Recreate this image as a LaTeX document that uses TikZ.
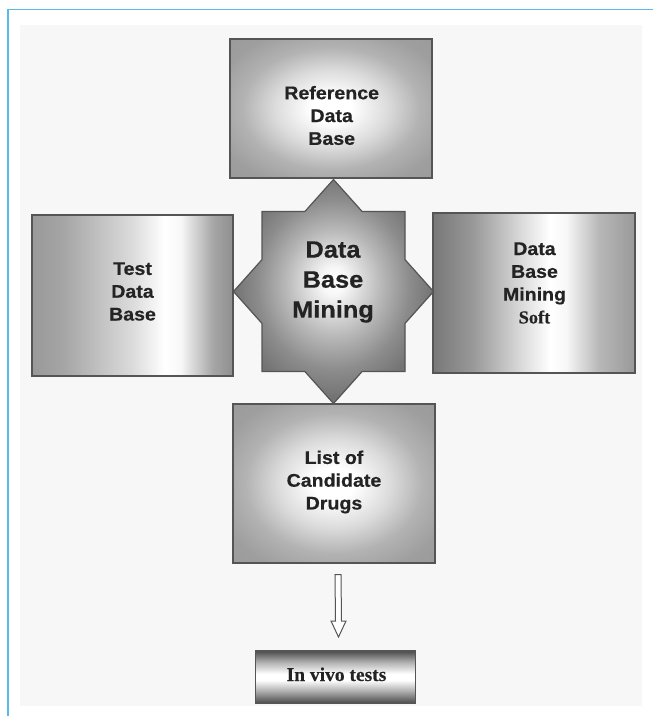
\documentclass[tikz,border=0pt]{standalone}
\usepackage{fontspec}
\setmainfont{Liberation Serif}[FakeBold=0.4]
\newfontfamily\boxfont{Liberation Sans}[FakeStretch=1.07, FakeBold=0.5]
\usetikzlibrary{calc}
\definecolor{framecol}{RGB}{90,185,230}
\definecolor{txtcol}{RGB}{35,35,35}
\definecolor{edgecol}{RGB}{85,85,85}
\pgfdeclareradialshading{boxrad}{\pgfpoint{0bp}{0bp}}{rgb(0bp)=(1,1,1); rgb(5bp)=(1,1,1); rgb(14bp)=(0.86,0.86,0.86); rgb(22bp)=(0.7,0.7,0.7); rgb(30bp)=(0.62,0.62,0.62); rgb(50bp)=(0.58,0.58,0.58)}
\pgfdeclareradialshading{starrad}{\pgfpoint{0bp}{2.5bp}}{rgb(0bp)=(1,1,1); rgb(3bp)=(0.97,0.97,0.97); rgb(12bp)=(0.72,0.72,0.72); rgb(19bp)=(0.55,0.55,0.55); rgb(25bp)=(0.45,0.45,0.45); rgb(50bp)=(0.45,0.45,0.45)}
\pgfdeclarehorizontalshading{testsh}{100bp}{rgb(0bp)=(0.6,0.6,0.6); rgb(25bp)=(0.6,0.6,0.6); rgb(33bp)=(0.65,0.65,0.65); rgb(50bp)=(0.86,0.86,0.86); rgb(58bp)=(1,1,1); rgb(62bp)=(0.97,0.97,0.97); rgb(70bp)=(0.65,0.65,0.65); rgb(75bp)=(0.56,0.56,0.56); rgb(100bp)=(0.56,0.56,0.56)}
\pgfdeclarehorizontalshading{softsh}{100bp}{rgb(0bp)=(0.47,0.47,0.47); rgb(25bp)=(0.47,0.47,0.47); rgb(35bp)=(0.6,0.6,0.6); rgb(48bp)=(0.88,0.88,0.88); rgb(54bp)=(1,1,1); rgb(58bp)=(0.97,0.97,0.97); rgb(66bp)=(0.72,0.72,0.72); rgb(75bp)=(0.6,0.6,0.6); rgb(100bp)=(0.6,0.6,0.6)}
\pgfdeclareverticalshading{vivosh}{100bp}{rgb(0bp)=(0.3,0.3,0.3); rgb(25bp)=(0.3,0.3,0.3); rgb(37bp)=(0.7,0.7,0.7); rgb(47bp)=(1,1,1); rgb(53bp)=(1,1,1); rgb(64bp)=(0.7,0.7,0.7); rgb(75bp)=(0.3,0.3,0.3); rgb(100bp)=(0.3,0.3,0.3)}
\tikzset{
  box/.style={draw=edgecol, line width=1.2pt, inner sep=0pt, outer sep=0pt},
  boxtext/.style={text=txtcol, align=center, inner sep=0pt,
    font={\boxfont\bfseries\fontsize{18.3}{22.8}\selectfont}},
  startext/.style={text=txtcol, align=center, inner sep=0pt,
    font={\boxfont\bfseries\fontsize{23.7}{30}\selectfont}},
  serifbold/.style={text=txtcol, inner sep=0pt, font={\rmfamily\bfseries\fontsize{19.5}{23}\selectfont}},
  hollowarrow/.style={draw=edgecol, fill=white, line width=1pt, line join=miter}
}
\begin{document}
\begin{tikzpicture}[x=1pt, y=-1pt]
\useasboundingbox (0,0) rectangle (653,716);
\fill[white] (0,0) rectangle (653,716);
\fill[black!3] (20,25) rectangle (642,706);
\draw[framecol, line width=1.6pt] (653,9.5) -- (8,9.5) -- (8,716);

% boxes
\node[box, shade, shading=boxrad, minimum width=202pt, minimum height=139pt] (ref) at (331,108.5) {};
\node[box, shade, shading=testsh, minimum width=201pt, minimum height=161pt] (test) at (132.5,295.5) {};
\node[box, shade, shading=softsh, minimum width=202pt, minimum height=160pt] (soft) at (534,293) {};
\node[box, shade, shading=boxrad, minimum width=202pt, minimum height=159pt] (list) at (334,483.5) {};
\node[box, shade, shading=vivosh, minimum width=160pt, minimum height=52pt] (vivo) at (335.5,677) {};

% star
\coordinate (mc) at (333.5,291.5);
\draw[shift={(mc)}, draw=edgecol, line width=1.2pt, line join=miter, shade, shading=starrad]
  (-28.6,-80) -- (0,-112) -- (28.6,-80) -- (71.5,-80) -- (71.5,-31.9) -- (100,0)
  -- (71.5,31.9) -- (71.5,80) -- (28.6,80) -- (0,112) -- (-28.6,80) -- (-71.5,80)
  -- (-71.5,31.9) -- (-100,0) -- (-71.5,-31.9) -- (-71.5,-80) -- cycle;

% texts
\node[boxtext] (reft) at (331.7,115.5) {Reference\\Data\\Base};
\node[boxtext] (testt) at (132.5,291.5) {Test\\Data\\Base};
\node[boxtext] (softt) at (534.5,283) {Data\\Base\\Mining\\{\rmfamily\bfseries Soft}};
\node[boxtext] (listt) at (334,482) {List of\\Candidate\\Drugs};
\node[startext] (mt) at (333,282) {Data\\Base\\Mining};
\node[serifbold, anchor=base] (vivot) at (336.5,681) {In vivo tests};

% hollow arrow
\coordinate (arrtop) at ($(list.south)+(4,11.5)$);
\coordinate (arrtip) at ($(vivo.north)+(3,-14)$);
\draw[hollowarrow] ($(arrtop)+(-3,0)$) -- ($(arrtop)+(3,0)$) -- ($(arrtip)+(3,-16)$)
  -- ($(arrtip)+(7.5,-16)$) -- (arrtip) -- ($(arrtip)+(-7.5,-16)$)
  -- ($(arrtip)+(-3,-16)$) -- cycle;
\end{tikzpicture}
\end{document}
